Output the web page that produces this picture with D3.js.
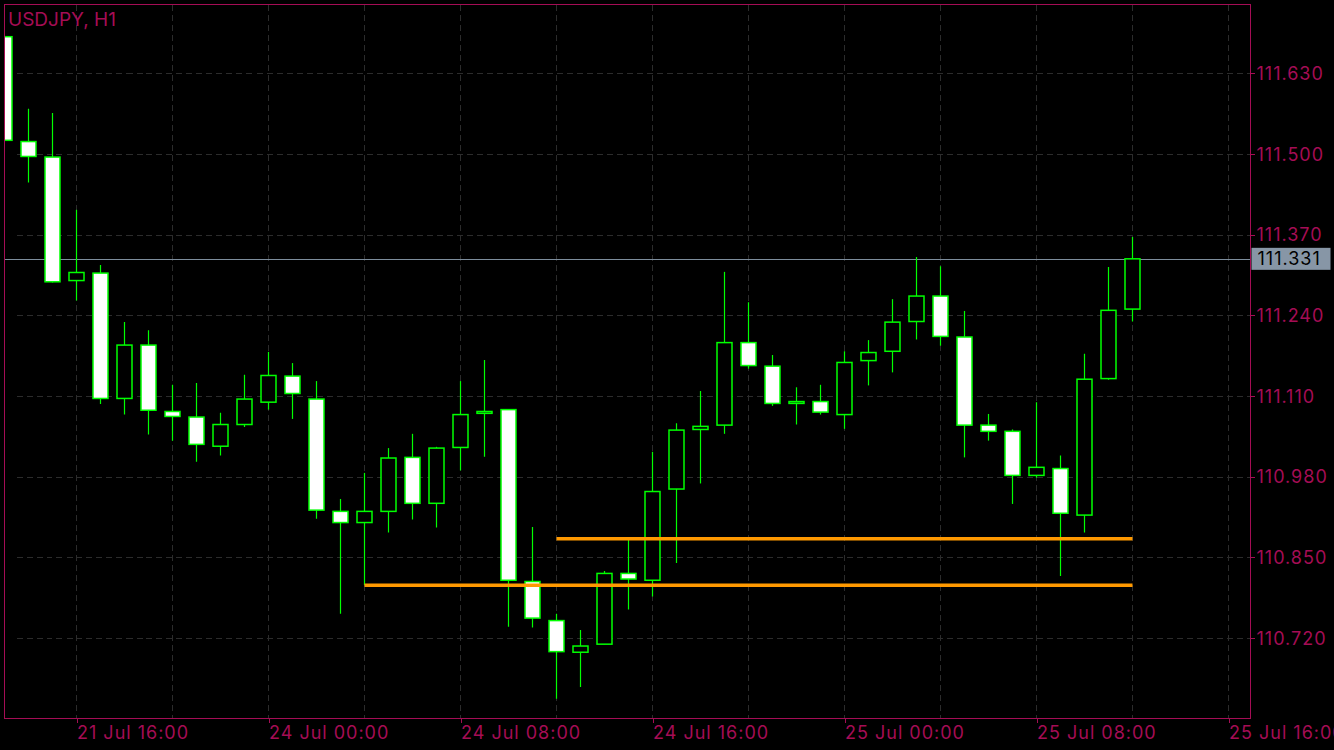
<!DOCTYPE html>
<html>
<meta charset="utf-8">
<head>
<style>
body {
    margin: 0;
    background: #000;
}
svg text {
    font-family: Inter, "Liberation Sans", Arial, sans-serif;
}
.grid line {
    stroke: #2c2c2c;
    stroke-width: 1;
    stroke-dasharray: 6,4;
    shape-rendering: crispEdges;
}
.axis path {
    display: none;
}
.axis line {
    stroke: #a50d55;
    shape-rendering: crispEdges;
}
.axis text {
    fill: #a50d55;
    font-size: 18px;
    letter-spacing: 1px;
}
</style>
<script src="https://d3js.org/d3.v7.min.js"></script>
</head>
<body>
<script>
// USDJPY H1, 21 Jul 13:00 .. 25 Jul 12:00 (one bar per hour, weekend skipped)
var opens  = [111.689, 111.520, 111.495, 111.296, 111.308, 111.106, 111.192, 111.085, 111.076, 111.029,
              111.064, 111.100, 111.142, 111.105, 110.924, 110.906, 110.924, 111.011, 110.937, 111.027,
              111.082, 111.088, 110.811, 110.748, 110.697, 110.710, 110.824, 110.813, 110.960, 111.056,
              111.063, 111.196, 111.158, 111.098, 111.101, 111.080, 111.167, 111.182, 111.230, 111.271,
              111.205, 111.063, 111.053, 110.982, 110.993, 110.918, 111.138, 111.250];
var highs  = [111.689, 111.573, 111.566, 111.410, 111.321, 111.229, 111.216, 111.128, 111.131, 111.083,
              111.144, 111.181, 111.163, 111.134, 110.944, 110.986, 111.026, 111.049, 111.028, 111.134,
              111.168, 111.088, 110.899, 110.759, 110.733, 110.828, 110.878, 111.020, 111.066, 111.118,
              111.310, 111.261, 111.176, 111.124, 111.128, 111.182, 111.200, 111.266, 111.334, 111.319,
              111.247, 111.081, 111.056, 111.100, 111.014, 111.178, 111.318, 111.366];
var lows   = [111.522, 111.454, 111.293, 111.264, 111.097, 111.080, 111.048, 111.038, 111.004, 111.014,
              111.060, 111.088, 111.073, 110.912, 110.759, 110.805, 110.890, 110.911, 110.898, 110.990,
              111.012, 110.738, 110.737, 110.622, 110.641, 110.710, 110.766, 110.787, 110.841, 110.969,
              111.049, 111.154, 111.094, 111.064, 111.080, 111.057, 111.127, 111.148, 111.201, 111.191,
              111.011, 111.038, 110.936, 110.978, 110.820, 110.890, 111.136, 111.230];
var closes = [111.522, 111.496, 111.294, 111.309, 111.106, 111.192, 111.087, 111.077, 111.032, 111.064,
              111.105, 111.143, 111.114, 110.926, 110.906, 110.924, 111.010, 110.937, 111.026, 111.080,
              111.085, 110.813, 110.752, 110.698, 110.707, 110.824, 110.815, 110.956, 111.055, 111.061,
              111.196, 111.159, 111.098, 111.101, 111.084, 111.164, 111.180, 111.229, 111.271, 111.206,
              111.063, 111.053, 110.982, 110.995, 110.921, 111.137, 111.248, 111.331];

var priceTicks = [110.720, 110.850, 110.980, 111.110, 111.240, 111.370, 111.500, 111.630];
var timeTickBars = [3, 11, 19, 27, 35, 43, 51];
var timeTickLabels = ["21 Jul 16:00", "24 Jul 00:00", "24 Jul 08:00", "24 Jul 16:00",
                      "25 Jul 00:00", "25 Jul 08:00", "25 Jul 16:00"];
var gridBars = [3, 7, 11, 15, 19, 23, 27, 31, 35, 39, 43, 47, 51];

// horizontal levels drawn on the chart
var levelPrices = [110.880, 110.805];
var levelFrom   = [23, 15];
var levelTo     = [47, 47];

var lastPrice = 111.331;
var title = "USDJPY, H1";

var width = 1334, height = 750;
var plotL = 4.5, plotR = 1250.5, plotT = 4.5, plotB = 718.5;

var x = d3.scaleLinear().domain([0, 47]).range([4.5, 1132.5]);
var y = d3.scaleLinear().domain([110.720, 111.630]).range([637.96, 73.3]);
function yc(p) { return Math.round(y(p)) + 0.5; }

var svg = d3.select("body").append("svg")
    .attr("width", width)
    .attr("height", height)
    .style("display", "block");

svg.append("rect").attr("width", width).attr("height", height).attr("fill", "#000");

svg.append("defs").append("clipPath").attr("id", "plot")
  .append("rect")
    .attr("x", plotL).attr("y", plotT)
    .attr("width", plotR - plotL).attr("height", plotB - plotT);

// grid
var grid = svg.append("g").attr("class", "grid").attr("clip-path", "url(#plot)");
grid.selectAll("line.h")
    .data(priceTicks)
  .enter().append("line")
    .attr("class", "h")
    .attr("x1", plotL + 12).attr("x2", plotR)
    .attr("y1", yc).attr("y2", yc);
grid.selectAll("line.v")
    .data(gridBars)
  .enter().append("line")
    .attr("class", "v")
    .attr("x1", function(d) { return x(d); })
    .attr("x2", function(d) { return x(d); })
    .attr("y1", plotT).attr("y2", plotB);

// last price line
svg.append("line")
    .attr("x1", plotL).attr("x2", plotR)
    .attr("y1", yc(lastPrice)).attr("y2", yc(lastPrice))
    .attr("stroke", "#7d8d9c")
    .attr("stroke-width", 1)
    .style("shape-rendering", "crispEdges");

// candles
var bars = d3.range(opens.length).map(function(i) {
    return {i: i, o: opens[i], h: highs[i], l: lows[i], c: closes[i]};
});

var candles = svg.append("g").attr("clip-path", "url(#plot)")
  .selectAll("g")
    .data(bars)
  .enter().append("g");

candles.append("line")
    .attr("x1", function(d) { return x(d.i); })
    .attr("x2", function(d) { return x(d.i); })
    .attr("y1", function(d) { return y(d.h); })
    .attr("y2", function(d) { return y(d.l); })
    .attr("stroke", "#00ff00")
    .attr("stroke-width", 1.2);

candles.append("rect")
    .attr("x", function(d) { return x(d.i) - 7.5; })
    .attr("width", 15)
    .attr("y", function(d) { return y(Math.max(d.o, d.c)); })
    .attr("height", function(d) { return Math.max(1, Math.abs(y(d.o) - y(d.c))); })
    .attr("fill", function(d) { return d.c < d.o ? "#ffffff" : "#000000"; })
    .attr("stroke", "#00ff00")
    .attr("stroke-width", 1.5);

// levels
svg.append("g").selectAll("line")
    .data(levelPrices)
  .enter().append("line")
    .attr("x1", function(d, i) { return x(levelFrom[i]); })
    .attr("x2", function(d, i) { return x(levelTo[i]); })
    .attr("y1", function(d) { return y(d); })
    .attr("y2", function(d) { return y(d); })
    .attr("stroke", "#ff9900")
    .attr("stroke-width", 3.5);

// frame
svg.append("rect")
    .attr("x", plotL).attr("y", plotT)
    .attr("width", plotR - plotL).attr("height", plotB - plotT)
    .attr("fill", "none")
    .attr("stroke", "#a50d55")
    .attr("stroke-width", 1);

// price axis
var yAxis = d3.axisRight(y)
    .tickValues(priceTicks)
    .tickSize(4)
    .tickPadding(2)
    .tickFormat(d3.format(".3f"));

svg.append("g")
    .attr("class", "axis")
    .attr("transform", "translate(" + plotR + ",0)")
    .call(yAxis)
    .selectAll("text")
    .attr("dy", "0.35em");

// time axis
var xAxis = d3.axisBottom(x)
    .tickValues(timeTickBars)
    .tickSize(4)
    .tickFormat(function(d, i) { return timeTickLabels[i]; });

svg.append("g")
    .attr("class", "axis")
    .attr("transform", "translate(0," + plotB + ")")
    .call(xAxis)
    .selectAll("text")
    .attr("text-anchor", "start")
    .attr("x", 0)
    .attr("y", 20)
    .attr("dy", 0);

// last price label
var lp = svg.append("g").attr("transform", "translate(" + (plotR + 1) + "," + y(lastPrice) + ")");
lp.append("rect")
    .attr("x", 0).attr("y", -11)
    .attr("width", 79).attr("height", 22)
    .attr("fill", "#8796a6");
lp.append("text")
    .attr("x", 6)
    .attr("dy", "0.35em")
    .attr("fill", "#000")
    .style("font-size", "18px")
    .style("letter-spacing", "1px")
    .text(lastPrice.toFixed(3));

// title
svg.append("text")
    .attr("x", 8)
    .attr("y", 26)
    .attr("fill", "#a50d55")
    .style("font-size", "19px")
    .text(title);
</script>
</body>
</html>
